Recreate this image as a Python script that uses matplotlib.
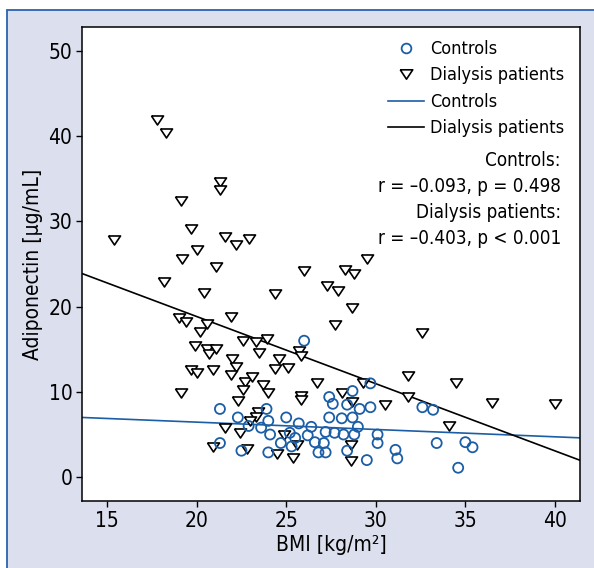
import matplotlib
matplotlib.use("Agg")
import matplotlib.pyplot as plt
from matplotlib import font_manager as fm
from matplotlib.lines import Line2D
from matplotlib.patches import Rectangle
import numpy as np

names = {(f.name, f.stretch) for f in fm.fontManager.ttflist}
fam_names = {n for n, _ in names}
if 'Liberation Sans Narrow' in fam_names:
    plt.rcParams['font.family'] = ['Liberation Sans Narrow', 'DejaVu Sans']
elif any(n == 'DejaVu Sans' and s == 'condensed' for n, s in names):
    plt.rcParams['font.family'] = ['DejaVu Sans']
    plt.rcParams['font.stretch'] = 'condensed'
else:
    plt.rcParams['font.family'] = ['Liberation Sans', 'DejaVu Sans']

# Controls (BMI, adiponectin)
ctrl_bmi = [21.3, 22.3, 22.9, 23.9, 24.0, 23.6, 24.1, 24.7, 25.0, 25.2, 25.7, 25.5, 25.3,
            21.3, 22.5, 24.0, 26.0, 26.4, 26.2, 26.6, 27.1, 26.8, 27.2, 27.2, 27.7, 28.2,
            28.8, 29.0, 27.4, 28.1, 28.7, 27.4, 27.6, 28.4, 29.1, 29.7, 28.7, 29.7, 28.4,
            29.5, 30.1, 30.1, 31.1, 31.2, 32.6, 33.2, 33.4, 35.0, 35.4, 34.6]
ctrl_adipo = [8.0, 7.0, 6.0, 8.0, 6.6, 5.8, 5.0, 4.0, 7.0, 5.2, 6.3, 4.6, 3.6,
              4.0, 3.1, 2.9, 16.0, 5.9, 4.9, 4.1, 4.0, 2.9, 2.9, 5.3, 5.2, 5.0,
              5.0, 5.9, 7.0, 6.9, 7.0, 9.4, 8.6, 8.5, 8.0, 8.2, 10.1, 11.0, 3.1,
              2.0, 5.0, 4.0, 3.2, 2.2, 8.2, 7.9, 4.0, 4.1, 3.5, 1.1]

# Dialysis patients (BMI, adiponectin)
dial_bmi = [17.8, 18.3, 15.4, 21.3, 21.3, 19.1, 19.7, 21.6, 22.2, 22.9, 20.0, 19.2, 21.1,
            26.0, 28.3, 28.8, 29.5, 18.2, 20.4, 24.4, 27.3, 27.9, 28.7, 27.7, 32.6, 19.0,
            19.4, 21.9, 20.6, 20.2, 22.6, 23.3, 23.9, 19.9, 20.6, 20.7, 21.1, 23.5, 25.7,
            25.8, 22.0, 24.6, 22.2, 19.7, 20.0, 20.9, 24.4, 25.1, 21.9, 22.7, 23.1, 23.7,
            26.7, 29.3, 31.8, 34.5, 19.1, 22.6, 24.0, 25.8, 25.8, 22.3, 28.1, 28.7, 30.5,
            31.8, 36.5, 40.0, 34.1, 23.4, 23.3, 23.0, 21.6, 22.4, 20.9, 22.8, 24.5, 25.4,
            24.9, 25.6, 28.6, 28.6]
dial_adipo = [41.9, 40.4, 27.8, 34.6, 33.7, 32.4, 29.1, 28.2, 27.2, 27.9, 26.6, 25.6, 24.6,
              24.2, 24.3, 23.8, 25.6, 22.9, 21.6, 21.5, 22.4, 21.8, 19.8, 17.8, 16.9, 18.7,
              18.2, 18.8, 18.0, 17.0, 16.0, 15.8, 16.2, 15.4, 15.0, 14.4, 15.0, 14.6, 14.8,
              14.2, 13.8, 13.8, 12.9, 12.6, 12.2, 12.6, 12.7, 12.8, 12.0, 11.2, 11.7, 10.8,
              11.0, 11.0, 11.9, 11.0, 9.9, 10.2, 9.9, 9.5, 9.0, 8.9, 9.9, 8.8, 8.5,
              9.4, 8.7, 8.6, 6.0, 7.6, 7.0, 6.6, 5.8, 5.2, 3.5, 3.3, 2.7, 2.2,
              4.9, 3.8, 3.8, 1.9]

# Regression lines (intercept, slope)
ctrl_fit = (8.17, -0.086)
dial_fit = (34.6, -0.788)

xticks = [15, 20, 25, 30, 35, 40]
yticks = [0, 10, 20, 30, 40, 50]
xlim = (13.6, 41.4)
ylim = (-2.8, 52.8)

blue = '#1b5ea6'
fig = plt.figure(figsize=(5.94, 5.68), dpi=100, facecolor='white')
W, H = 594, 568
bg = Rectangle((7 / W, -0.05), 1.1, 1 - 10 / H + 0.05, transform=fig.transFigure,
               facecolor='#dce0ee', edgecolor='#2a62b0', linewidth=1.3, zorder=-10)
fig.patches.append(bg)

ax = fig.add_axes([82 / W, 1 - 501 / H, (580 - 82) / W, (501 - 27) / H])
ax.set_zorder(5)
ax.set_facecolor('white')
ax.set_xlim(*xlim)
ax.set_ylim(*ylim)

xs = np.array(xlim)
ax.plot(xs, ctrl_fit[0] + ctrl_fit[1] * xs, color=blue, lw=1.2, zorder=2)
ax.plot(xs, dial_fit[0] + dial_fit[1] * xs, color='black', lw=1.2, zorder=2)

tri = [(-1, 0.75), (1, 0.75), (0, -0.75), (-1, 0.75)]
ax.scatter(dial_bmi, dial_adipo, marker=tri, s=75, facecolor='white', edgecolor='black',
           linewidths=1.2, zorder=3)
ax.scatter(ctrl_bmi, ctrl_adipo, marker='o', s=52, facecolor='none', edgecolor=blue,
           linewidths=1.3, zorder=4)

ax.set_xticks(xticks)
ax.set_yticks(yticks)
ax.tick_params(direction='out', length=4, width=1, labelsize=15, pad=3)
for s in ax.spines.values():
    s.set_linewidth(1.1)

ax.set_xlabel('BMI [kg/m²]', fontsize=15, labelpad=3)
ax.set_ylabel('Adiponectin [µg/mL]', fontsize=15, labelpad=4)

handles = [
    Line2D([], [], marker='o', ls='none', markersize=7, markerfacecolor='none',
           markeredgecolor=blue, markeredgewidth=1.3, label='Controls'),
    Line2D([], [], marker=tri, ls='none', markersize=9, markerfacecolor='white',
           markeredgecolor='black', markeredgewidth=1.2, label='Dialysis patients'),
    Line2D([], [], color=blue, lw=1.2, label='Controls'),
    Line2D([], [], color='black', lw=1.2, label='Dialysis patients'),
]
ax.legend(handles=handles, loc='upper left', bbox_to_anchor=(306 / 498, 0.9726),
          frameon=False, fontsize=13, borderpad=0, handlelength=2.0,
          handletextpad=0.35, labelspacing=0.47, borderaxespad=0)

tx = (561 - 82) / 498
for txt, py in [('Controls:', 161), ('r = \u20130.093, p = 0.498', 187),
                ('Dialysis patients:', 213), ('r = \u20130.403, p < 0.001', 239)]:
    ax.text(tx, (501 - py) / 474, txt, transform=ax.transAxes, ha='right', va='center',
            fontsize=13.5)

fig.savefig('out.png', dpi=100, facecolor=fig.get_facecolor())
